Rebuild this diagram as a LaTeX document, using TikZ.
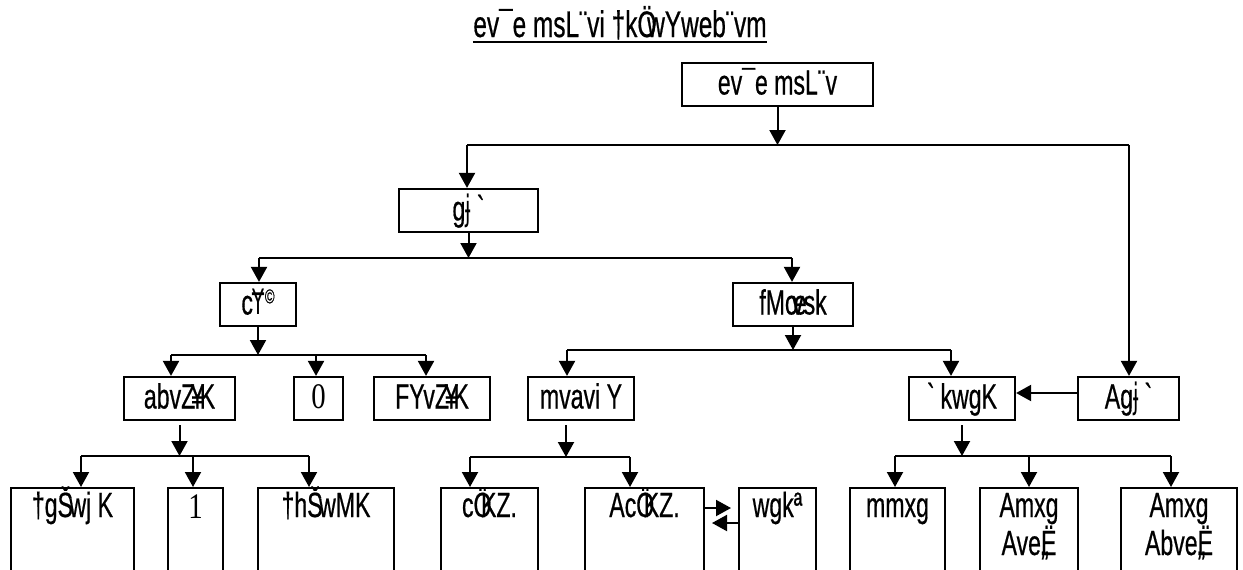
\documentclass[tikz,border=0pt]{standalone}
\usepackage{fontspec}
\setmainfont{Liberation Sans}[FakeStretch=0.66, FakeBold=0.5, Ligatures=TeXOff]
\newfontfamily\numfont{Liberation Serif}[FakeStretch=0.8]
\newfontfamily\xfont{DejaVu Sans}[FakeStretch=0.56]
\usetikzlibrary{arrows.meta}
\newcommand\jst{{\xfont ɉ}}
\newcommand\Yst{{\xfont Ɏ}}
\newcommand\cpr{\raisebox{0.32em}{\fontsize{10}{10}\selectfont ©}}

\begin{document}
\begin{tikzpicture}[x=0.5pt,y=-0.5pt,
  txt/.style={font=\fontsize{17.5}{20}\selectfont},
  box/.style={txt, draw, line width=1.1pt, inner sep=0pt, minimum height=21.5pt,
              text height=12pt, text depth=2pt},
  tall/.style={draw, line width=1.1pt, anchor=north, minimum height=60pt, inner sep=0pt},
  lbl/.style={txt, anchor=base, inner sep=0pt},
  wire/.style={line width=1pt},
  arr/.style={line width=1pt, -{Triangle[length=7.5pt,width=8pt]}},
  num/.style={font=\numfont\fontsize{18}{20}\selectfont},
]
\useasboundingbox (0,0) rectangle (1243,569);
\clip (0,0) rectangle (1243,569);

% heading
\node[font=\fontsize{18.5}{20}\selectfont, anchor=base, inner sep=0pt] (title) at (620,37) {ev¯e msL¨vi †kÖ\kern-0.25em wYweb¨vm};
\draw[line width=0.9pt] ([yshift=-2.5pt]title.base west) -- ([yshift=-2.5pt]title.base east);

% tree nodes
\node[box, minimum width=95.5pt] (top) at (777.5,84.5) {ev¯e msL¨v};
\node[box, minimum width=69.5pt] (gjd) at (468.5,210.5) {g\jst\kern3pt`};
\node[box, minimum width=38pt]   (cy)  at (258,304.5) {c\Yst\cpr};
\node[box, minimum width=60pt]   (fm)  at (793,304.5) {fMœ\kern-0.42em vsk};
\node[box, minimum width=55.5pt] (abv) at (179.5,398.5) {abvZ\kern-0.12em¥\kern-0.12em K};
\node[box, minimum width=24.5pt, num] (zero) at (318.5,398.5) {0};
\node[box, minimum width=58pt]   (fy)  at (432,398.5) {FYvZ\kern-0.12em¥\kern-0.12em K};
\node[box, minimum width=53pt]   (mva) at (581,398.5) {mvavi Y};
\node[box, minimum width=53pt]   (dsh) at (962,398.5) {`\,kwgK};
\node[box, minimum width=50.5pt] (agj) at (1128.5,398.5) {Ag\jst\kern3pt`};

% bottom row (open at the lower edge)
\node[tall, minimum width=61.5pt] (b1) at (72.5,487) {};
\node[tall, minimum width=27.5pt] (b2) at (195.5,487) {};
\node[tall, minimum width=68pt]   (b3) at (326,487) {};
\node[tall, minimum width=48.5pt] (b4) at (489.5,487) {};
\node[tall, minimum width=59.5pt] (b5) at (644.5,487) {};
\node[tall, minimum width=38.5pt] (b6) at (777.5,487) {};
\node[tall, minimum width=47.5pt] (b7) at (897.5,487) {};
\node[tall, minimum width=49pt]   (b8) at (1029,487) {};
\node[tall, minimum width=58pt]   (b9) at (1179,487) {};

\node[lbl] (b1t) at (b1.north |- 0,517) {†gŠ\kern-0.1em wj K};
\node[lbl, num] (b2t) at (b2.north |- 0,518) {1};
\node[lbl] (b3t) at (b3.north |- 0,517) {†hŠ\kern-0.1em wMK};
\node[lbl] (b4t) at (b4.north |- 0,517) {cÖ\kern-0.3em KZ.};
\node[lbl] (b5t) at (b5.north |- 0,517) {AcÖ\kern-0.3em KZ.};
\node[lbl] (b6t) at (b6.north |- 0,517) {wgkª};
\node[lbl] (b7t) at (b7.north |- 0,517) {mmxg};
\node[lbl] (b8t) at (b8.north |- 0,517) {Amxg};
\node[lbl] (b8u) at (b8.north |- 0,555) {Ave\rlap{„}Ë};
\node[lbl] (b9t) at (b9.north |- 0,517) {Amxg};
\node[lbl] (b9u) at (b9.north |- 0,555) {Abve\rlap{„}Ë};

% junction points of the buses
\coordinate (j1l) at (467,145);  \coordinate (j1r) at (1129,145);
\coordinate (j2l) at (259,258);  \coordinate (j2r) at (792,258);
\coordinate (j3l) at (171,355);  \coordinate (j3m) at (316,355); \coordinate (j3r) at (426,355);
\coordinate (j4l) at (567,350);  \coordinate (j4r) at (951,350);
\coordinate (j5l) at (81,456);   \coordinate (j5m) at (193,456); \coordinate (j5r) at (309,456);
\coordinate (j6l) at (470,457);  \coordinate (j6a) at (566,457); \coordinate (j6r) at (630,457);
\coordinate (j7l) at (895,456);  \coordinate (j7m) at (1029,456); \coordinate (j7r) at (1171,456);
\coordinate (h1) at (1050,393);
\coordinate (h2) at (731,508);
\coordinate (h3) at (712,523);

% level 1
\draw[arr] (top.south) -- (top.south |- j1l);
\draw[wire] (j1l) -- (j1r);
\draw[arr] (j1l) -- (j1l |- gjd.north);
\draw[arr] (j1r) -- (j1r |- agj.north);

% level 2
\draw[arr] (gjd.south) -- (gjd.south |- j2l);
\draw[wire] (j2l) -- (j2r);
\draw[arr] (j2l) -- (j2l |- cy.north);
\draw[arr] (j2r) -- (j2r |- fm.north);

% level 3
\draw[arr] (cy.south) -- (cy.south |- j3l);
\draw[wire] (j3l) -- (j3r);
\draw[arr] (j3l) -- (j3l |- abv.north);
\draw[arr] (j3m) -- (j3m |- zero.north);
\draw[arr] (j3r) -- (j3r |- fy.north);

\draw[arr] (fm.south) -- (fm.south |- j4l);
\draw[wire] (j4l) -- (j4r);
\draw[arr] (j4l) -- (j4l |- mva.north);
\draw[arr] (j4r) -- (j4r |- dsh.north);

\draw[arr] (agj.west |- h1) -- (dsh.east |- h1);

% level 4
\draw[arr, shorten <=2pt] (abv.south) -- (abv.south |- j5l);
\draw[wire] (j5l) -- (j5r);
\draw[arr] (j5l) -- (j5l |- b1.north);
\draw[arr] (j5m) -- (j5m |- b2.north);
\draw[arr] (j5r) -- (j5r |- b3.north);

\draw[arr, shorten <=2pt] (j6a |- mva.south) -- (j6a);
\draw[wire] (j6l) -- (j6r);
\draw[arr] (j6l) -- (j6l |- b4.north);
\draw[arr] (j6r) -- (j6r |- b5.north);

\draw[arr, shorten <=2pt] (dsh.south) -- (dsh.south |- j7l);
\draw[wire] (j7l) -- (j7r);
\draw[arr] (j7l) -- (j7l |- b7.north);
\draw[arr] (j7m) -- (j7m |- b8.north);
\draw[arr] (j7r) -- (j7r |- b9.north);

% two-way link between the last two boxes of the middle group
\draw[arr] (b5.east |- h2) -- (h2);
\draw[arr] (b6.west |- h3) -- (h3);
\end{tikzpicture}
\end{document}
